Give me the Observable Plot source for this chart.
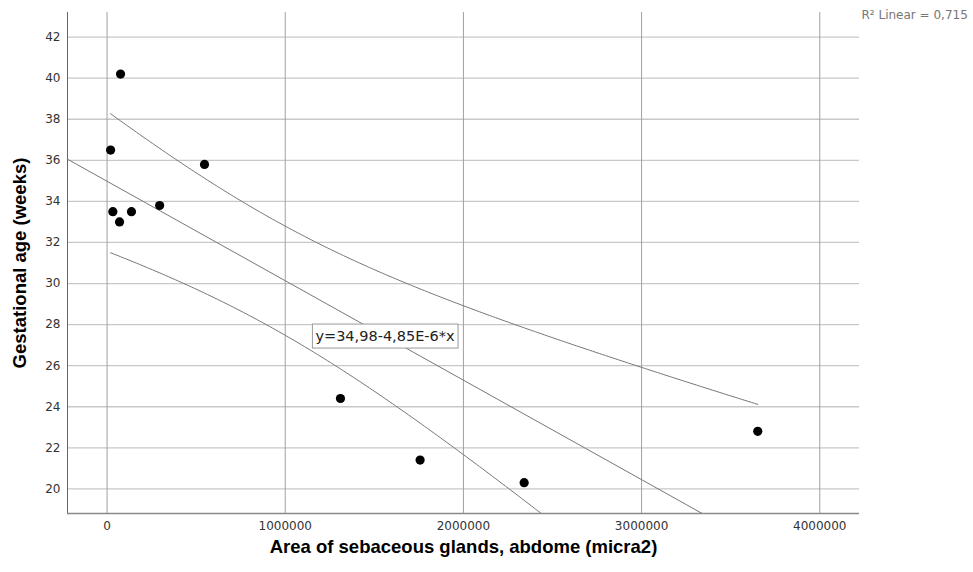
<!DOCTYPE html>
<html><head><meta charset="utf-8">
<script src="https://cdn.jsdelivr.net/npm/d3@7"></script>
<script src="https://cdn.jsdelivr.net/npm/@observablehq/plot@0.6"></script>
<style>body{margin:0;background:#fff}</style>
</head><body><div id="chart"></div>
<script>
// ---- data ----
const area = [75800, 20000, 32500, 70000, 137000, 295000, 547000, 1310000, 1757000, 2341000, 3652000];
const gestAge = [40.2, 36.5, 33.5, 33.0, 33.5, 33.8, 35.8, 24.4, 21.4, 20.3, 22.8];
const xTicks = [0, 1000000, 2000000, 3000000, 4000000];
const yTicks = [20, 22, 24, 26, 28, 30, 32, 34, 36, 38, 40, 42];
const xDomain = [-222000, 4223000];
const yDomain = [18.8, 43.2];
const xTitle = "Area of sebaceous glands, abdome (micra2)";
const yTitle = "Gestational age (weeks)";
const equationLabel = "y=34,98-4,85E-6*x";
const equationAt = 1560000;
const r2Label = "R\u00B2 Linear = 0,715";
const tCrit = 2.262; // t(0.975, df = 9)

// ---- derived: least squares fit and 95% CI of the mean ----
const pts = area.map((x, i) => ({x, y: gestAge[i]}));
const n = pts.length;
const mx = d3.mean(area), my = d3.mean(gestAge);
const sxx = d3.sum(area, x => (x - mx) ** 2);
const sxy = d3.sum(pts, p => (p.x - mx) * (p.y - my));
const slope = sxy / sxx, intercept = my - slope * mx;
const fit = x => intercept + slope * x;
const s = Math.sqrt(d3.sum(pts, p => (p.y - fit(p.x)) ** 2) / (n - 2));
const half = x => tCrit * s * Math.sqrt(1 / n + (x - mx) ** 2 / sxx);
const [x0, x1] = d3.extent(area);
const grid = d3.range(0, 201).map(i => x0 + (x1 - x0) * i / 200);
const upper = grid.map(x => ({x, y: fit(x) + half(x)}));
const lower = grid.map(x => ({x, y: fit(x) - half(x)}));
const fitLine = xDomain.map(x => ({x, y: fit(x)}));

const chart = Plot.plot({
  width: 973, height: 572,
  marginLeft: 67, marginRight: 114, marginTop: 12, marginBottom: 59,
  style: {fontFamily: "DejaVu Sans", fontSize: "12px", color: "#333", background: "#fff"},
  x: {domain: xDomain},
  y: {domain: yDomain},
  marks: [
    Plot.gridY({ticks: yTicks, stroke: "#c8c8c8", strokeOpacity: 1, strokeWidth: 1.3}),
    Plot.gridX({ticks: xTicks, stroke: "#a0a0a0", strokeOpacity: 1}),
    Plot.ruleX([xDomain[0]], {stroke: "#666"}),
    Plot.ruleY([yDomain[0]], {stroke: "#888", strokeWidth: 1.3}),
    Plot.axisX({ticks: xTicks, tickSize: 0, tickPadding: 8, tickFormat: d3.format("d"), label: null}),
    Plot.axisY({ticks: yTicks, tickSize: 0, tickPadding: 7, label: null}),
    Plot.line(fitLine, {x: "x", y: "y", stroke: "#777", strokeWidth: 1, clip: true}),
    Plot.line(upper, {x: "x", y: "y", stroke: "#777", strokeWidth: 1, clip: true}),
    Plot.line(lower, {x: "x", y: "y", stroke: "#777", strokeWidth: 1, clip: true}),
    Plot.dot(pts, {x: "x", y: "y", r: 4.6, fill: "#000", stroke: "none"}),
    Plot.text([equationLabel], {x: equationAt, y: fit(equationAt), text: d => d, fontSize: 14.5, fill: "#222", className: "eq-label"}),
    Plot.text([r2Label], {frameAnchor: "top-right", text: d => d, textAnchor: "start", lineAnchor: "middle", dx: 2, dy: 3, fontSize: 12, fill: "#777"}),
    Plot.text([xTitle], {frameAnchor: "bottom", text: d => d, lineAnchor: "middle", dy: 34, fontSize: 18.5, fontWeight: "bold", fontFamily: "Liberation Sans, Arial, sans-serif", fill: "#000"}),
    Plot.text([yTitle], {frameAnchor: "left", text: d => d, rotate: -90, lineAnchor: "middle", textAnchor: "middle", dx: -47, fontSize: 18.5, fontWeight: "bold", fontFamily: "Liberation Sans, Arial, sans-serif", fill: "#000"})
  ]
});
document.getElementById("chart").append(chart);

// box round the equation label
const t = chart.querySelector("g.eq-label text");
if (t) {
  const bb = t.getBBox();
  const rect = document.createElementNS("http://www.w3.org/2000/svg", "rect");
  rect.setAttribute("x", bb.x - 3);
  rect.setAttribute("y", bb.y - 4);
  rect.setAttribute("width", bb.width + 6);
  rect.setAttribute("height", bb.height + 8);
  rect.setAttribute("fill", "#fff");
  rect.setAttribute("stroke", "#999");
  const tr = t.getAttribute("transform");
  if (tr) rect.setAttribute("transform", tr);
  t.parentNode.insertBefore(rect, t);
}
</script>
</body></html>
